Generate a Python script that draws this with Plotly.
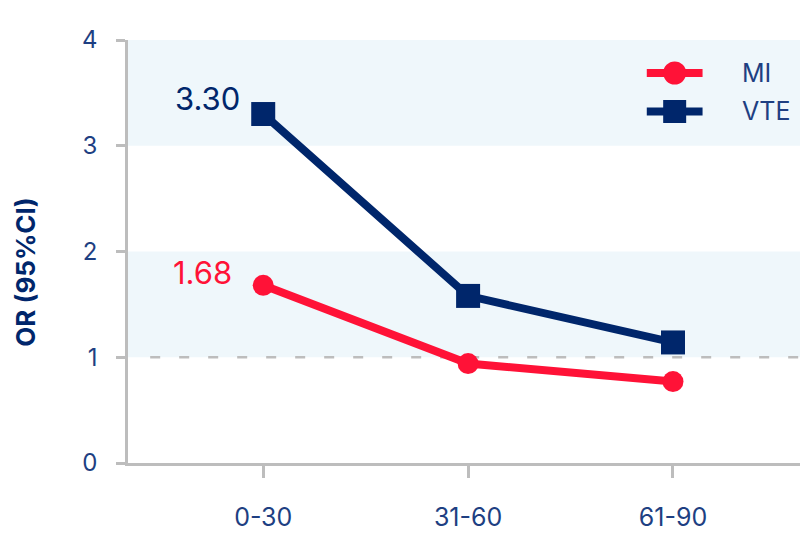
import plotly.graph_objects as go

# Days after infection and odds ratios per outcome
periods = ["0-30", "31-60", "61-90"]
mi_or = [1.68, 0.94, 0.77]
vte_or = [3.30, 1.58, 1.14]

y_ticks = [0, 1, 2, 3, 4]

RED = "#FF1237"
NAVY = "#00266B"
TEXT = "#1E3F82"
GRID = "#BDBDBD"
BAND = "#EFF7FB"
FONT = "Inter, Lato, 'Open Sans', sans-serif"

fig = go.Figure()

fig.add_trace(go.Scatter(
    x=periods, y=mi_or, name="MI", mode="lines+markers",
    line=dict(color=RED, width=8),
    marker=dict(symbol="circle", size=21, color=RED),
    showlegend=False,
))
fig.add_trace(go.Scatter(
    x=periods, y=vte_or, name="VTE", mode="lines+markers",
    line=dict(color=NAVY, width=8),
    marker=dict(symbol="square", size=24, color=NAVY),
    showlegend=False,
))

# Shaded bands and reference line at OR = 1
shapes = [
    dict(type="rect", xref="paper", yref="y", x0=0, x1=1, y0=3, y1=4,
         fillcolor=BAND, line=dict(width=0), layer="below"),
    dict(type="rect", xref="paper", yref="y", x0=0, x1=1, y0=1, y1=2,
         fillcolor=BAND, line=dict(width=0), layer="below"),
    dict(type="line", xref="paper", yref="y", x0=0.033, x1=1, y0=1, y1=1,
         line=dict(color=GRID, width=2.5, dash="10px,19px"), layer="below"),
]

# Legend drawn in paper space
legend_items = [("MI", RED, "circle", 0.922), ("VTE", NAVY, "square", 0.831)]
annotations = []
for name, color, sym, yp in legend_items:
    shapes.append(dict(type="line", xref="paper", yref="paper",
                       x0=0.772, x1=0.855, y0=yp, y1=yp,
                       line=dict(color=color, width=8)))
    cx, r = 0.8135, 11.5 / 672
    ry = 11.5 / 423
    shapes.append(dict(type="circle" if sym == "circle" else "rect",
                       xref="paper", yref="paper",
                       x0=cx - r, x1=cx + r, y0=yp - ry, y1=yp + ry,
                       fillcolor=color, line=dict(width=0)))
    annotations.append(dict(xref="paper", yref="paper", x=0.91, y=yp,
                            text=name, showarrow=False, xanchor="left",
                            yanchor="middle",
                            font=dict(size=25, color=TEXT, family=FONT)))

# Value labels on the first period
annotations.append(dict(x=periods[0], y=vte_or[0], text=f"{vte_or[0]:.2f}",
                        showarrow=False, xanchor="right", yanchor="middle",
                        xshift=-21, yshift=16,
                        font=dict(size=31, color=NAVY, family=FONT)))
annotations.append(dict(x=periods[0], y=mi_or[0], text=f"{mi_or[0]:.2f}",
                        showarrow=False, xanchor="right", yanchor="middle",
                        xshift=-29, yshift=13,
                        font=dict(size=31, color=RED, family=FONT)))

# Y-axis title
annotations.append(dict(xref="paper", yref="paper", x=-0.152, y=0.452,
                        text="<b>OR (95%CI)</b>", textangle=-90,
                        showarrow=False, xanchor="center", yanchor="middle",
                        font=dict(size=26, color=NAVY, family=FONT)))

fig.update_layout(
    width=801, height=560,
    margin=dict(l=128, r=1, t=40, b=97),
    paper_bgcolor="white", plot_bgcolor="white",
    shapes=shapes, annotations=annotations,
    font=dict(family=FONT, color=TEXT),
)

fig.update_xaxes(
    type="category", categoryorder="array", categoryarray=periods,
    range=[-0.66, 2.62],
    showline=True, linecolor=GRID, linewidth=2.5,
    ticks="outside", ticklen=12, tickwidth=2.5, tickcolor=GRID,
    showgrid=False, zeroline=False,
    tickfont=dict(size=25, color=TEXT, family=FONT),
    ticklabelstandoff=18,
)
fig.update_yaxes(
    range=[0, 4], tickvals=y_ticks,
    showline=True, linecolor=GRID, linewidth=2.5,
    ticks="outside", ticklen=9, tickwidth=2.5, tickcolor=GRID,
    showgrid=False, zeroline=False,
    tickfont=dict(size=24, color=TEXT, family=FONT),
    ticklabelstandoff=14,
)

fig.write_html("out.html")
